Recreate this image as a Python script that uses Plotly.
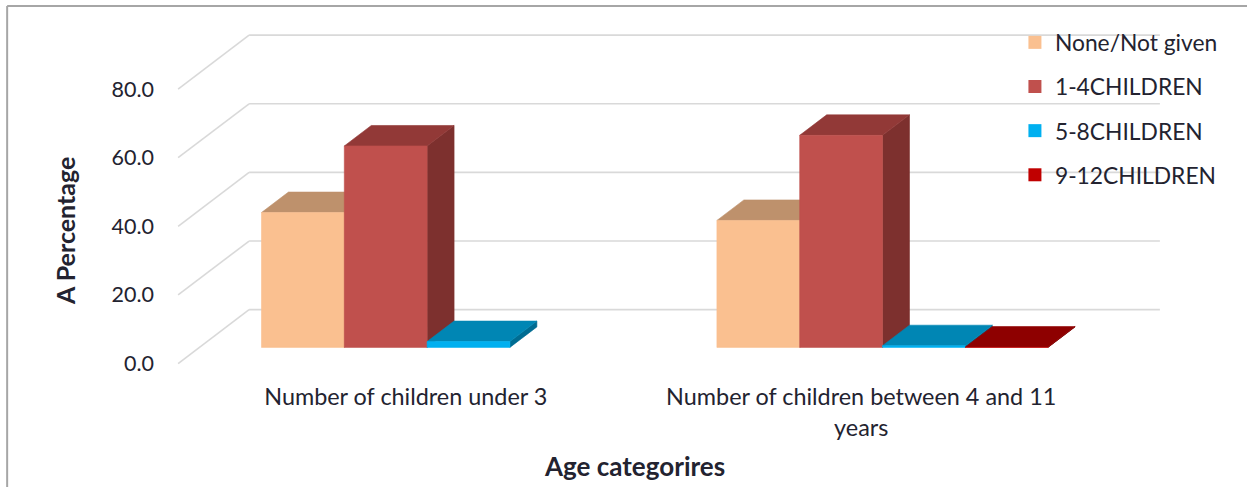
import plotly.graph_objects as go

# ---- data ----
categories = ["Number of children under 3", "Number of children between 4 and 11<br>years"]
series_names = ["None/Not given", "1-4CHILDREN", "5-8CHILDREN", "9-12CHILDREN"]
none_given = [39.3, 37.0]
one_to_four = [58.7, 61.8]
five_to_eight = [1.7, 0.5]
nine_to_twelve = [None, 0.1]
y_ticks = [0, 20, 40, 60, 80]
y_tick_text = ["0.0", "20.0", "40.0", "60.0", "80.0"]

series_values = [none_given, one_to_four, five_to_eight, nine_to_twelve]
front_colors = ["#FAC090", "#C0504D", "#00B0F0", "#C00000"]
top_colors = ["#BE916C", "#923937", "#0086B4", "#8E0000"]
side_colors = ["#A67A57", "#7D302E", "#006C92", "#700000"]

# ---- oblique 3-D projection settings (in axis units) ----
W, H = 1247, 487
PX_PER_CAT = 455.5          # pixels per category unit
PX_PER_VAL = 3.436          # pixels per value unit
X0_PX, Y0_PX = 178, 364     # pixel of (category -0.5, value 0) on the front plane
DEPTH_DX = 71 / PX_PER_CAT  # full floor depth, horizontal part
DEPTH_DY = 54 / PX_PER_VAL  # full floor depth, vertical part
BAR_FRONT = 0.30            # bar front plane as fraction of floor depth
BAR_DEPTH = 0.38            # bar thickness as fraction of floor depth
GAP_WIDTH = 1.5             # gap between clusters relative to one bar
n_series = len(series_values)
bar_w = 1.0 / (n_series + GAP_WIDTH)

x_range = [-0.52, 1.5 + DEPTH_DX + 0.02]
y_range = [-1.0, 80 + DEPTH_DY + 1.5]
m_left = X0_PX + (x_range[0] + 0.5) * PX_PER_CAT
m_right = W - (X0_PX + (x_range[1] + 0.5) * PX_PER_CAT)
m_top = Y0_PX - y_range[1] * PX_PER_VAL
m_bottom = H - (Y0_PX - y_range[0] * PX_PER_VAL)
plot_w = W - m_left - m_right
plot_h = H - m_top - m_bottom


def paper_x(px):
    return (px - m_left) / plot_w


def paper_y(py):
    return (H - m_bottom - py) / plot_h


fig = go.Figure()

fx, fy = BAR_FRONT * DEPTH_DX, BAR_FRONT * DEPTH_DY
dx, dy = BAR_DEPTH * DEPTH_DX, BAR_DEPTH * DEPTH_DY


def poly(xs, ys, color):
    fig.add_trace(go.Scatter(
        x=xs + [xs[0]], y=ys + [ys[0]], mode="lines", fill="toself",
        fillcolor=color, line=dict(color=color, width=0.6),
        hoverinfo="skip", showlegend=False))


# bars drawn left to right so nearer faces cover the ones behind them
for c in range(len(categories)):
    for s in range(n_series):
        v = series_values[s][c]
        if v is None:
            continue
        xl = c - 0.5 + GAP_WIDTH * bar_w / 2 + s * bar_w + fx
        xr = xl + bar_w
        b = fy
        t = fy + v
        # right side face
        poly([xr, xr, xr + dx, xr + dx], [b, t, t + dy, b + dy], side_colors[s])
        # top face
        poly([xl, xr, xr + dx, xl + dx], [t, t, t + dy, t + dy], top_colors[s])
        # front face
        poly([xl, xr, xr, xl], [b, b, t, t], front_colors[s])

# legend entries
for s in range(n_series):
    fig.add_trace(go.Scatter(
        x=[None], y=[None], mode="markers", name=series_names[s],
        marker=dict(symbol="square", size=13, color=front_colors[s]),
        legendgroup=series_names[s], showlegend=True))

# walls: back-wall gridlines and side-wall diagonals
grid = dict(color="#D9D9D9", width=1.6)
shapes = []
for v in y_ticks:
    shapes.append(dict(type="line", xref="x", yref="y", layer="below",
                       x0=-0.5, y0=v, x1=-0.5 + DEPTH_DX, y1=v + DEPTH_DY, line=grid))
    shapes.append(dict(type="line", xref="x", yref="y", layer="below",
                       x0=-0.5 + DEPTH_DX, y0=v + DEPTH_DY, x1=1.5 + DEPTH_DX, y1=v + DEPTH_DY,
                       line=grid))
# chart frame (left and top edges)
frame = dict(color="#A6A6A6", width=2)
shapes.append(dict(type="line", xref="paper", yref="paper",
                   x0=paper_x(7), y0=paper_y(6), x1=paper_x(7), y1=paper_y(H + 5), line=frame))
shapes.append(dict(type="line", xref="paper", yref="paper",
                   x0=paper_x(7), y0=paper_y(6), x1=paper_x(W + 5), y1=paper_y(6), line=frame))

FONT = "Lato"
TEXT = "#232330"

fig.update_layout(
    width=W, height=H, autosize=False,
    margin=dict(l=m_left, r=m_right, t=m_top, b=m_bottom, pad=0),
    paper_bgcolor="white", plot_bgcolor="white",
    font=dict(family=FONT, color=TEXT, size=22),
    shapes=shapes,
    showlegend=True,
    legend=dict(x=paper_x(1015), y=paper_y(21), xanchor="left", yanchor="top",
                bgcolor="rgba(0,0,0,0)", font=dict(family=FONT, size=22.8, color=TEXT),
                tracegroupgap=11.5, traceorder="grouped"),
    xaxis=dict(range=x_range, tickvals=[0, 1], ticktext=categories,
               showgrid=False, zeroline=False, showline=False, ticks="",
               ticklabelstandoff=14, tickfont=dict(family=FONT, size=23.4, color=TEXT),
               fixedrange=True),
    yaxis=dict(range=y_range, tickvals=y_ticks, ticktext=y_tick_text,
               showgrid=False, zeroline=False, showline=False, ticks="",
               ticklabelstandoff=14, tickfont=dict(family=FONT, size=21.5, color=TEXT),
               fixedrange=True),
    annotations=[
        dict(text="<b>Age categorires</b>", xref="paper", yref="paper",
             x=paper_x(634), y=paper_y(467), showarrow=False,
             xanchor="center", yanchor="middle", font=dict(family=FONT, size=26, color=TEXT)),
        dict(text="<b>A Percentage</b>", xref="paper", yref="paper",
             x=paper_x(65), y=paper_y(231), showarrow=False, textangle=-90,
             xanchor="center", yanchor="middle", font=dict(family=FONT, size=25, color=TEXT)),
    ],
)

fig.write_html("out.html")
